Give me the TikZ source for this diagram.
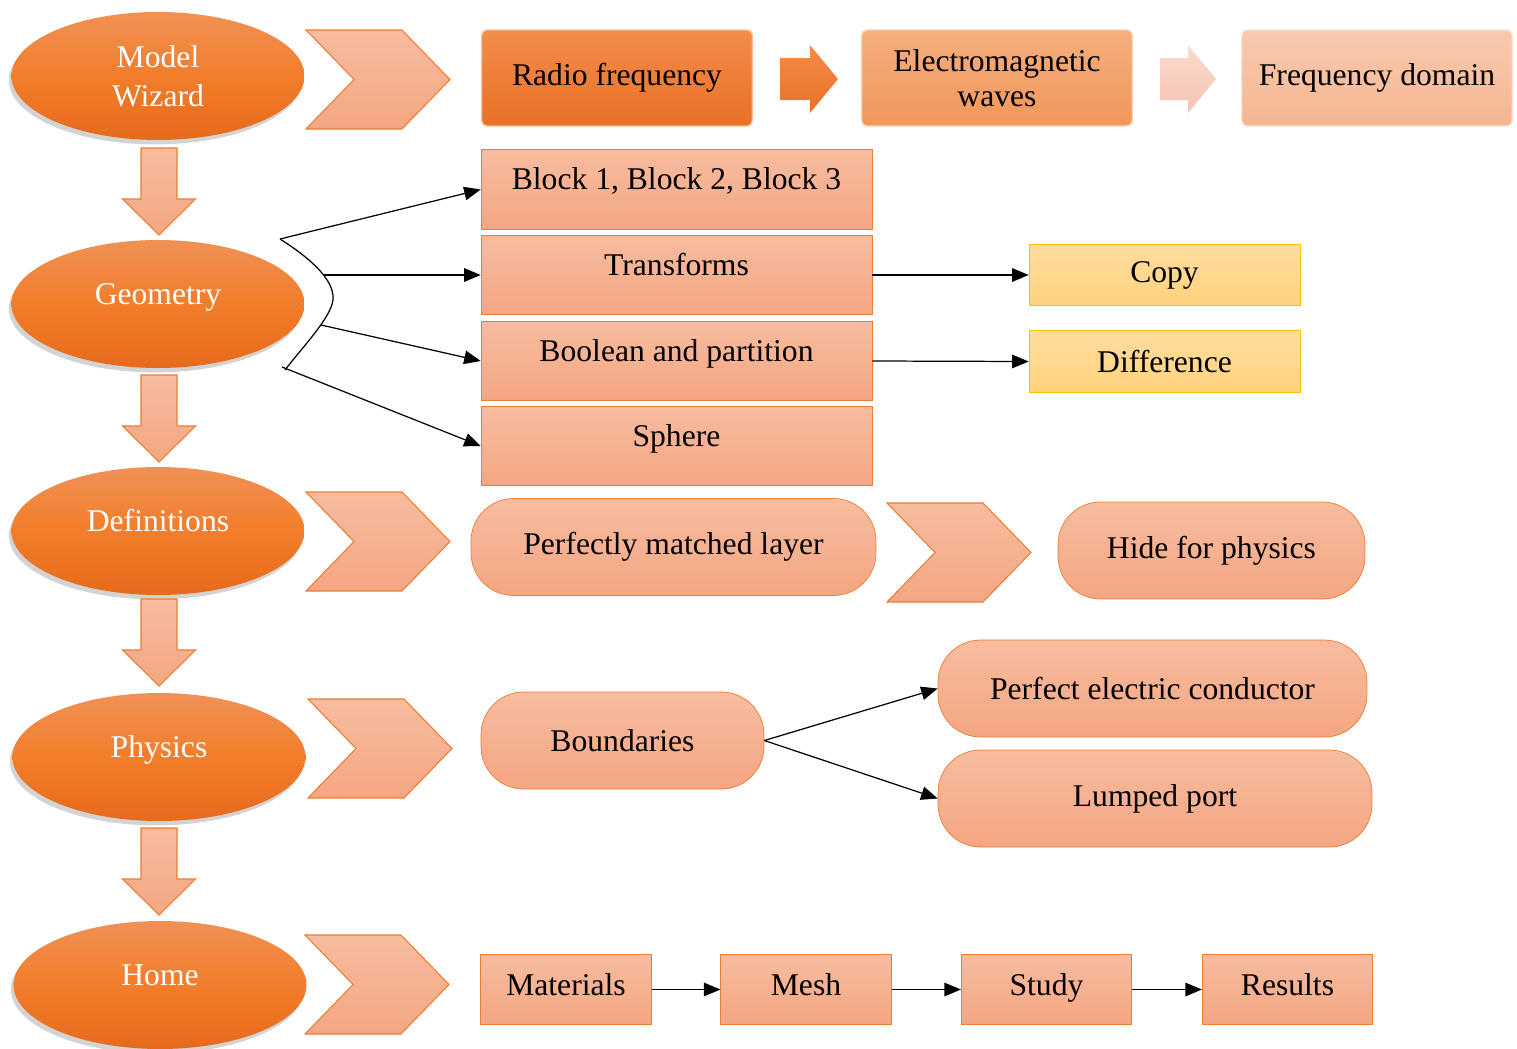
\documentclass[tikz,border=0pt]{standalone}
\usepackage{fontspec}
\setmainfont{Liberation Serif}
\usetikzlibrary{shapes,shadows,arrows.meta}
\definecolor{ellTop}{RGB}{240,145,85}
\definecolor{ellMid}{RGB}{242,125,42}
\definecolor{ellBot}{RGB}{230,106,28}
\definecolor{peachTop}{RGB}{247,188,160}
\definecolor{peachBot}{RGB}{244,166,130}
\definecolor{peachLine}{RGB}{237,125,49}
\definecolor{yelTop}{RGB}{255,221,158}
\definecolor{yelBot}{RGB}{255,210,125}
\definecolor{yelLine}{RGB}{255,192,0}
\definecolor{radTop}{RGB}{243,140,75}
\definecolor{radBot}{RGB}{233,112,38}
\definecolor{emwTop}{RGB}{245,175,125}
\definecolor{emwBot}{RGB}{241,150,90}
\definecolor{fdTop}{RGB}{248,202,175}
\definecolor{fdBot}{RGB}{245,182,145}
\definecolor{paleTop}{RGB}{250,218,205}
\definecolor{paleBot}{RGB}{246,196,178}

\begin{document}
\begin{tikzpicture}[x=0.02cm, y=-0.02cm,
    every node/.style={font=\fontsize{18}{21}\selectfont, inner sep=2pt},
    stage/.style={ellipse, minimum width=5.86cm, minimum height=2.56cm,
      top color=ellTop, bottom color=ellBot, middle color=ellMid,
      text=white, align=center,
      drop shadow={shadow xshift=-1.5pt, shadow yshift=-2.5pt, opacity=.35}},
    midtext/.style={text height=.4cm, text depth=.4cm},
    gbox/.style={rectangle, draw=peachLine, top color=peachTop, bottom color=peachBot,
      minimum width=7.82cm, minimum height=1.59cm, midtext},
    ybox/.style={rectangle, draw=yelLine, top color=yelTop, bottom color=yelBot,
      minimum width=5.42cm, minimum height=1.23cm},
    pill/.style={rectangle, rounded corners=.85cm, draw=peachLine,
      top color=peachTop, bottom color=peachBot, minimum height=1.94cm},
    hbox/.style={rectangle, draw=peachLine, top color=peachTop, bottom color=peachBot,
      minimum width=3.41cm, minimum height=1.39cm, text height=.45cm, text depth=.2cm},
    tbox/.style={rectangle, rounded corners=3pt, minimum width=5.41cm,
      minimum height=1.92cm, align=center, line width=.8pt},
    deco/.style={draw=peachLine, top color=peachTop, bottom color=peachBot, line width=.6pt},
    link/.style={-{Triangle[length=.33cm,width=.27cm]}, line width=.7pt}
  ]
  \useasboundingbox (0,0) rectangle (1517,1048);

  % left column
  \node[stage, font=\fontsize{18}{22}\selectfont] (wizard) at (158,76) {Model\\Wizard};
  \node[stage, midtext] (geom) at (158,304) {Geometry};
  \node[stage, midtext] (defs) at (158,531) {Definitions};
  \node[stage, midtext] (phys) at (159,757) {Physics};
  \node[stage, midtext] (home) at (160,985) {Home};

  \foreach \y in {148, 375, 599, 828} {
    \shade[deco] (141,\y) -- (177,\y) -- (177,\y+51) -- (195.5,\y+51)
      -- (159,\y+87) -- (122.5,\y+51) -- (141,\y+51) -- cycle;
  }
  \foreach \cx/\cy in {306/30, 306/492, 308/699, 305/935, 887/503} {
    \shade[deco] (\cx,\cy) -- ++(96,0) -- ++(48,49.5) -- ++(-48,49.5)
      -- ++(-96,0) -- ++(48,-49.5) -- cycle;
  }

  % top row
  \node[tbox, top color=radTop, bottom color=radBot, draw=radTop!60!white] (radio) at (617,78) {Radio frequency};
  \node[tbox, top color=emwTop, bottom color=emwBot, draw=emwTop!60!white,
    font=\fontsize{18}{20}\selectfont] (emw) at (997,78) {Electromagnetic\\waves};
  \node[tbox, top color=fdTop, bottom color=fdBot, draw=fdTop!60!white] (fdom) at (1377,78) {Frequency domain};
  \shade[top color=radTop, bottom color=radBot] (780,58) -- (810,58) -- (810,45) -- (838,79)
    -- (810,113) -- (810,100) -- (780,100) -- cycle;
  \shade[top color=paleTop, bottom color=paleBot] (1160,58) -- (1188,58) -- (1188,45) -- (1216,79)
    -- (1188,113) -- (1188,100) -- (1160,100) -- cycle;

  % geometry
  \node[gbox] (block) at (676.5,189.5) {Block 1, Block 2, Block 3};
  \node[gbox] (trans) at (676.5,275) {Transforms};
  \node[gbox] (bool) at (676.5,361) {Boolean and partition};
  \node[gbox] (sphere) at (676.5,446) {Sphere};
  \node[ybox] (copy) at (1164.5,275) {Copy};
  \node[ybox] (diff) at (1164.5,361.5) {Difference};

  \coordinate (brA) at (280,239);
  \coordinate (brB) at (324,275);
  \coordinate (brC) at (321,325);
  \coordinate (brD) at (282,367);
  \draw[line width=.7pt] (brA) .. controls (310,258) and (335,280) .. (333,300)
    .. controls (331,318) and (300,350) .. (285,370);
  \draw[link] (brA) -- (block.west);
  \draw[link] (brB) -- (trans.west);
  \draw[link] (brC) -- (bool.west);
  \draw[link] (brD) -- (sphere.west);
  \draw[link] (trans.east) -- (copy.west);
  \draw[link] (bool.east) -- (diff.west);

  % definitions, physics
  \node[pill, minimum width=8.1cm] (pml) at (673.5,547) {Perfectly matched layer};
  \node[pill, minimum width=6.14cm] (hide) at (1211.5,550.5) {Hide for physics};
  \node[pill, minimum width=5.66cm] (bound) at (622.5,740.5) {Boundaries};
  \node[pill, minimum width=8.58cm] (pec) at (1152.5,688.5) {Perfect electric conductor};
  \node[pill, minimum width=8.68cm] (lump) at (1155,798.5) {Lumped port};
  \draw[link] (bound.east) -- (pec.west);
  \draw[link] (bound.east) -- (lump.west);

  % home
  \foreach \name/\txt/\hx in {mat/Materials/566, mesh/Mesh/806, study/Study/1046.5, res/Results/1287.5} {
    \node[hbox] (\name) at (\hx,989.5) {\txt};
  }
  \draw[link] (mat) -- (mesh);
  \draw[link] (mesh) -- (study);
  \draw[link] (study) -- (res);
\end{tikzpicture}
\end{document}
